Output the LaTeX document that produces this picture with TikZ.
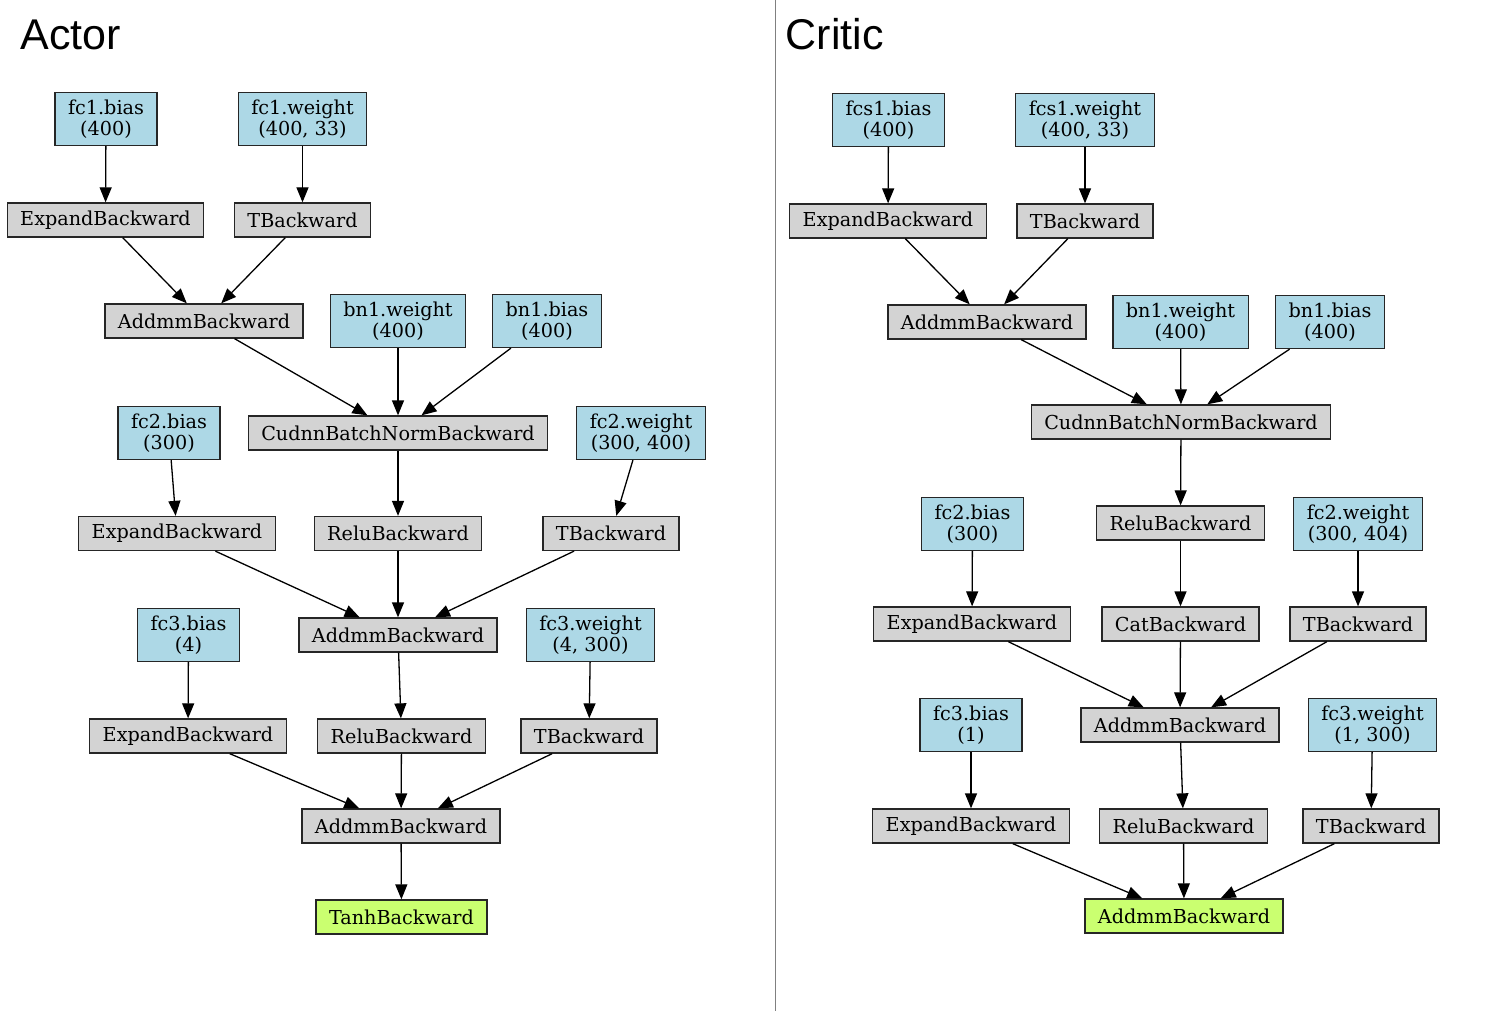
\documentclass[tikz,border=0pt]{standalone}
\usepackage{fontspec}
\usepackage{tikz}
\usetikzlibrary{arrows.meta,positioning}
\newfontfamily\graphfont{DejaVu Serif}
\newfontfamily\titlefont{Liberation Sans}
\definecolor{paramblue}{HTML}{ADD8E6}
\definecolor{opgray}{HTML}{D3D3D3}
\definecolor{outgreen}{HTML}{CAFF70}
\newcommand{\nodefont}{\graphfont\fontsize{19.2}{21}\selectfont}

\begin{document}
\begin{tikzpicture}[
        x=1pt, y=-1pt,
        box/.style={draw=black!85, inner xsep=13pt, inner ysep=7.2pt, minimum height=34pt, align=center, font=\nodefont},
        param/.style={box, fill=paramblue},
        op/.style={box, fill=opgray},
        outp/.style={box, fill=outgreen},
        title/.style={anchor=base west, inner sep=0pt, font=\titlefont\fontsize{43}{46}\selectfont},
        line width=1.3pt,
        ->, >={Triangle[length=15pt, width=12pt]}
      ]
      \useasboundingbox (0,0) rectangle (1506,1011);

      % Actor
      \node[title] (actortitle) at (20,50) {Actor};
      \node[param] (afc1bias) at (106,119) {fc1.bias\\(400)};
      \node[param] (afc1weight) at (302.5,119) {fc1.weight\\(400, 33)};
      \node[op] (aexp1) at (105.5,220) {ExpandBackward};
      \node[op] (at1) at (302.5,220) {TBackward};
      \node[op] (aaddmm1) at (204,321) {AddmmBackward};
      \node[param] (abn1weight) at (398,321) {bn1.weight\\(400)};
      \node[param] (abn1bias) at (547,321) {bn1.bias\\(400)};
      \node[param] (afc2bias) at (169,433) {fc2.bias\\(300)};
      \node[op] (acudnn) at (398,433) {CudnnBatchNormBackward};
      \node[param] (afc2weight) at (641,433) {fc2.weight\\(300, 400)};
      \node[op] (aexp2) at (177,533.5) {ExpandBackward};
      \node[op] (arelu1) at (398,533.5) {ReluBackward};
      \node[op] (at2) at (611,533.5) {TBackward};
      \node[param] (afc3bias) at (188.5,635) {fc3.bias\\(4)};
      \node[op] (aaddmm2) at (398,635) {AddmmBackward};
      \node[param] (afc3weight) at (590.5,635) {fc3.weight\\(4, 300)};
      \node[op] (aexp3) at (188,736) {ExpandBackward};
      \node[op] (arelu2) at (401.5,736) {ReluBackward};
      \node[op] (at3) at (589,736) {TBackward};
      \node[op] (aaddmm3) at (401,826) {AddmmBackward};
      \node[outp] (atanh) at (401.5,917) {TanhBackward};

      \draw (afc1bias) -- (aexp1);
      \draw (afc1weight) -- (at1);
      \draw (aexp1) -- (aaddmm1);
      \draw (at1) -- (aaddmm1);
      \draw (aaddmm1) -- (acudnn);
      \draw (abn1weight) -- (acudnn);
      \draw (abn1bias) -- (acudnn);
      \draw (afc2bias) -- (aexp2);
      \draw (acudnn) -- (arelu1);
      \draw (afc2weight) -- (at2);
      \draw (aexp2) -- (aaddmm2);
      \draw (arelu1) -- (aaddmm2);
      \draw (at2) -- (aaddmm2);
      \draw (afc3bias) -- (aexp3);
      \draw (aaddmm2) -- (arelu2);
      \draw (afc3weight) -- (at3);
      \draw (aexp3) -- (aaddmm3);
      \draw (arelu2) -- (aaddmm3);
      \draw (at3) -- (aaddmm3);
      \draw (aaddmm3) -- (atanh);

      % divider between the two graphs
      \draw[-, line width=0.8pt, black!50] (775,0) -- (775,1011);

      % Critic
      \node[title] (critictitle) at (785,50) {Critic};
      \node[param] (cfcs1bias) at (888.5,120) {fcs1.bias\\(400)};
      \node[param] (cfcs1weight) at (1085,120) {fcs1.weight\\(400, 33)};
      \node[op] (cexp1) at (888,221) {ExpandBackward};
      \node[op] (ct1) at (1085,221) {TBackward};
      \node[op] (caddmm1) at (987,322) {AddmmBackward};
      \node[param] (cbn1weight) at (1180.5,322) {bn1.weight\\(400)};
      \node[param] (cbn1bias) at (1330,322) {bn1.bias\\(400)};
      \node[op] (ccudnn) at (1181,422) {CudnnBatchNormBackward};
      \node[param] (cfc2bias) at (972.5,524) {fc2.bias\\(300)};
      \node[op] (crelu1) at (1180.5,523) {ReluBackward};
      \node[param] (cfc2weight) at (1358,524) {fc2.weight\\(300, 404)};
      \node[op] (cexp2) at (972,624) {ExpandBackward};
      \node[op] (ccat) at (1180.5,624) {CatBackward};
      \node[op] (ct2) at (1358,624) {TBackward};
      \node[param] (cfc3bias) at (971,725) {fc3.bias\\(1)};
      \node[op] (caddmm2) at (1180,725) {AddmmBackward};
      \node[param] (cfc3weight) at (1372.5,725) {fc3.weight\\(1, 300)};
      \node[op] (cexp3) at (971,826) {ExpandBackward};
      \node[op] (crelu2) at (1183.5,826) {ReluBackward};
      \node[op] (ct3) at (1371,826) {TBackward};
      \node[outp] (caddmm3) at (1184,916) {AddmmBackward};

      \draw (cfcs1bias) -- (cexp1);
      \draw (cfcs1weight) -- (ct1);
      \draw (cexp1) -- (caddmm1);
      \draw (ct1) -- (caddmm1);
      \draw (caddmm1) -- (ccudnn);
      \draw (cbn1weight) -- (ccudnn);
      \draw (cbn1bias) -- (ccudnn);
      \draw (ccudnn) -- (crelu1);
      \draw (crelu1) -- (ccat);
      \draw (cfc2bias) -- (cexp2);
      \draw (cfc2weight) -- (ct2);
      \draw (cexp2) -- (caddmm2);
      \draw (ccat) -- (caddmm2);
      \draw (ct2) -- (caddmm2);
      \draw (cfc3bias) -- (cexp3);
      \draw (caddmm2) -- (crelu2);
      \draw (cfc3weight) -- (ct3);
      \draw (cexp3) -- (caddmm3);
      \draw (crelu2) -- (caddmm3);
      \draw (ct3) -- (caddmm3);
    \end{tikzpicture}
\end{document}
